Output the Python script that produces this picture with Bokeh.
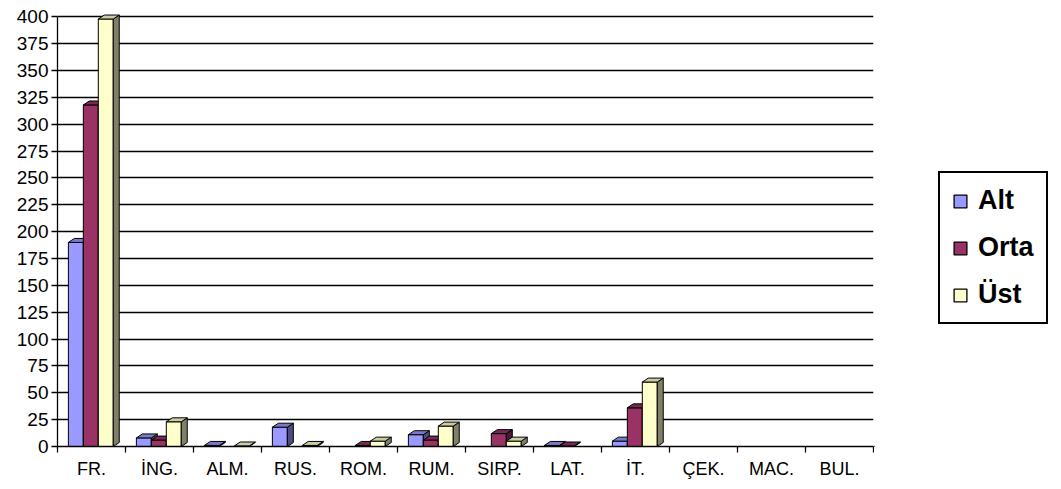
from bokeh.plotting import figure
from bokeh.models import Range1d, FixedTicker, Legend, LegendItem
from bokeh.layouts import row
from bokeh.embed import file_html
from bokeh.resources import INLINE

categories = ["FR.", "İNG.", "ALM.", "RUS.", "ROM.", "RUM.", "SIRP.", "LAT.", "İT.", "ÇEK.", "MAC.", "BUL."]
alt = [190, 8, 1, 18, 0, 11, 0, 1, 5, 0, 0, 0]
orta = [318, 6, 0, 0, 1, 6, 12, 0.5, 36, 0, 0, 0]
ust = [398, 23, 0.5, 1, 5, 19, 5, 0, 60, 0, 0, 0]
series_names = ["Alt", "Orta", "Üst"]
y_ticks = list(range(0, 401, 25))

front_colors = ["#9999FF", "#993366", "#FFFFCC"]
side_colors = ["#4D4D80", "#4D1A33", "#808066"]
top_colors = ["#7A7ACC", "#7A2952", "#CCCCA3"]

FONT = "Liberation Sans"
W = 0.22          # bar width (category units)
OFFS = [-0.23, -0.01, 0.21]
DX = 0.088        # depth, x (category units)
DY = 3.7          # depth, y (data units)

p = figure(width=874, height=489, output_backend="svg", toolbar_location=None,
           x_range=Range1d(0, len(categories)), y_range=Range1d(0, 405),
           min_border_left=57, min_border_right=1, min_border_top=11, min_border_bottom=43)
p.outline_line_color = None
p.background_fill_color = "white"

# grid
p.xgrid.visible = False
p.ygrid.ticker = FixedTicker(ticks=y_ticks)
p.ygrid.grid_line_color = "black"
p.ygrid.grid_line_width = 1.4

for s, vals in enumerate([alt, orta, ust]):
    xs_c, tops = [], []
    side_x, side_y, top_x, top_y = [], [], [], []
    for i, v in enumerate(vals):
        if v <= 0:
            continue
        c = i + 0.5 + OFFS[s]
        x0, x1 = c - W / 2, c + W / 2
        xs_c.append(c)
        tops.append(v)
        side_x.append([x1, x1 + DX, x1 + DX, x1])
        side_y.append([0, DY, v + DY, v])
        top_x.append([x0, x0 + DX, x1 + DX, x1])
        top_y.append([v, v + DY, v + DY, v])
    p.vbar(x=xs_c, top=tops, bottom=0, width=W, fill_color=front_colors[s],
           line_color="black", line_width=1)
    p.patches(side_x, side_y, fill_color=side_colors[s], line_color="black", line_width=1)
    p.patches(top_x, top_y, fill_color=top_colors[s], line_color="black", line_width=1)

# y axis
ya = p.yaxis[0]
ya.ticker = FixedTicker(ticks=y_ticks)
ya.bounds = (0, 400)
ya.axis_line_color = "black"
ya.axis_line_width = 1.3
ya.major_tick_in = 0
ya.major_tick_out = 6
ya.minor_tick_line_color = None
ya.major_tick_line_width = 1.3
ya.major_label_text_font = FONT
ya.major_label_text_font_size = "19px"
ya.major_label_text_color = "black"
ya.major_label_standoff = 3

# x axis
xa = p.xaxis[0]
xa.ticker = FixedTicker(ticks=[i + 0.5 for i in range(len(categories))],
                        minor_ticks=list(range(len(categories) + 1)))
xa.major_label_overrides = {i + 0.5: c for i, c in enumerate(categories)}
xa.axis_line_color = "black"
xa.axis_line_width = 1.3
xa.major_tick_in = 0
xa.major_tick_out = 0
xa.minor_tick_in = 0
xa.minor_tick_out = 6
xa.minor_tick_line_color = "black"
xa.minor_tick_line_width = 1.3
xa.major_label_text_font = FONT
xa.major_label_text_font_size = "18px"
xa.major_label_text_color = "black"
xa.major_label_standoff = 6

# legend panel (legend-only glyphs placed outside the visible range)
pl = figure(width=187, height=489, output_backend="svg", toolbar_location=None,
            x_range=Range1d(0, 1), y_range=Range1d(0, 1),
            min_border=0, min_border_left=0, min_border_right=0, min_border_top=0, min_border_bottom=0)
pl.axis.visible = False
pl.grid.visible = False
pl.outline_line_color = None
leg_rs = [pl.vbar(x=[-5], top=[-5], bottom=[-6], width=0.1, fill_color=front_colors[s],
                  line_color="black", line_width=1.3)
          for s in range(3)]
legend = Legend(items=[LegendItem(label=n, renderers=[r]) for n, r in zip(series_names, leg_rs)],
                location=(64, 122))
legend.label_text_font = FONT
legend.label_text_font_style = "bold"
legend.label_text_font_size = "27px"
legend.label_text_color = "black"
legend.label_height = 26
legend.glyph_height = 16
legend.glyph_width = 16
legend.spacing = 16
legend.padding = 12
legend.label_standoff = 10
legend.border_line_color = "black"
legend.border_line_width = 2
legend.border_line_alpha = 1
legend.background_fill_alpha = 1
legend.margin = 0
pl.add_layout(legend)

layout = row(p, pl)
open("out.html", "w").write(file_html(layout, INLINE))
